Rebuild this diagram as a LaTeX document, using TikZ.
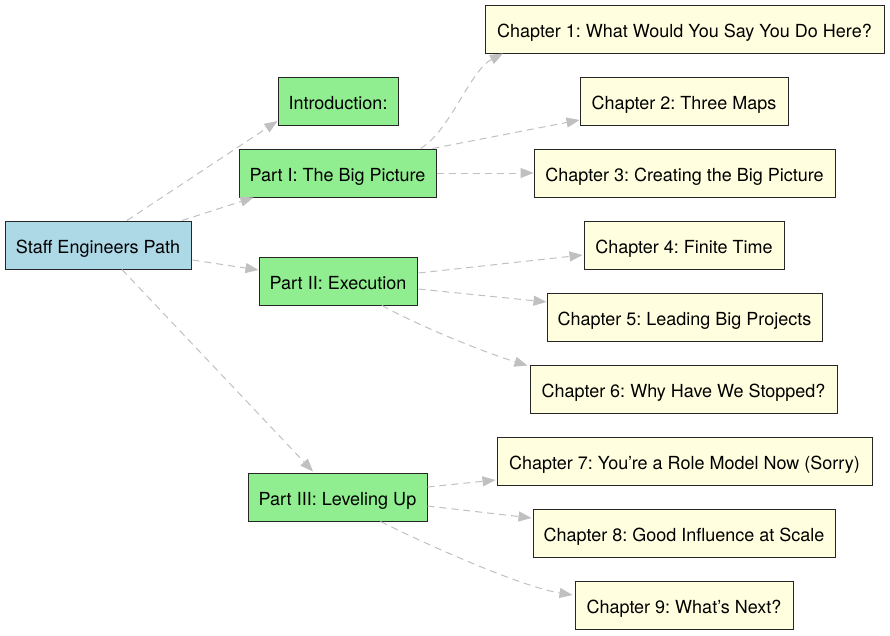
\documentclass[tikz,border=0pt]{standalone}
\usepackage{fontspec}
\setmainfont{TeX Gyre Heros}
\usetikzlibrary{arrows.meta,calc}
\definecolor{rootfill}{HTML}{ADD8E6}
\definecolor{partfill}{HTML}{90EE90}
\definecolor{chapfill}{HTML}{FFFFE0}
\definecolor{edgegray}{HTML}{C0C0C0}
\frenchspacing
\tikzset{
  box/.style={draw=black!85, line width=1pt, rectangle, minimum height=48pt, inner sep=0pt, text height=18pt, text depth=1.4pt, font=\fontsize{18}{22}\selectfont\frenchspacing},
  rootbox/.style={box, fill=rootfill},
  partbox/.style={box, fill=partfill},
  chapbox/.style={box, fill=chapfill},
  edge/.style={draw=edgegray, line width=1pt, dash pattern=on 7pt off 5pt, -{Triangle[length=13pt,width=10pt]}}
}
\begin{document}
\begin{tikzpicture}[x=1pt,y=-1pt]
\useasboundingbox (0,0) rectangle (890,635);
\node[rootbox, minimum width=186pt] (staff) at (98,245) {Staff Engineers Path};
\node[partbox, minimum width=120pt] (intro) at (338,101) {Introduction:};
\node[partbox, minimum width=197pt] (p1) at (337.5,173) {Part I: The Big Picture};
\node[partbox, minimum width=158pt] (p2) at (338,281) {Part II: Execution};
\node[partbox, minimum width=179pt] (p3) at (337.5,497) {Part III: Leveling Up};
\node[chapbox, minimum width=399pt] (c1) at (684.5,29) {Chapter 1: What Would You Say You Do Here?};
\node[chapbox, minimum width=208pt] (c2) at (684,101) {Chapter 2: Three Maps};
\node[chapbox, minimum width=301pt] (c3) at (684.5,173) {Chapter 3: Creating the Big Picture};
\node[chapbox, minimum width=200pt] (c4) at (684,245) {Chapter 4: Finite Time};
\node[chapbox, minimum width=275pt] (c5) at (684.5,317) {Chapter 5: Leading Big Projects};
\node[chapbox, minimum width=307pt] (c6) at (683.5,389) {Chapter 6: Why Have We Stopped?};
\node[chapbox, minimum width=375pt] (c7) at (684.5,461) {Chapter 7: You’re a Role Model Now (Sorry)};
\node[chapbox, minimum width=302pt] (c8) at (684,533) {Chapter 8: Good Influence at Scale};
\node[chapbox, minimum width=218pt] (c9) at (684,605) {Chapter 9: What’s Next?};
% root edges
\draw[edge] ($(staff.north)+(29,0)$) -- ($(intro.west)+(0,20)$);
\draw[edge] ($(staff.north)+(84,0)$) -- ($(p1.south)+(-84,0)$);
\draw[edge] ($(staff.east)+(1,15)$) -- ($(p2.west)+(0,-11)$);
\draw[edge] ($(staff.south)+(24,0)$) -- ($(p3.north)+(-24.5,-1)$);
% part I edges
\draw[edge] ($(p1.north)+(83,0)$) .. controls +(30,-18) and +(-33,17) .. ($(c1.south)+(-181.5,0)$);
\draw[edge] ($(p1.north)+(95,0)$) -- ($(c2.west)+(0,19)$);
\draw[edge] (p1.east) -- (c3.west);
% part II edges
\draw[edge] ($(p2.east)+(1,-8)$) -- ($(c4.west)+(-1,10)$);
\draw[edge] ($(p2.east)+(1,8)$) -- ($(c5.west)+(0,-15)$);
\draw[edge] ($(p2.south)+(44,0)$) .. controls +(40,22) and +(-40,-12) .. ($(c6.north west)+(-2,1)$);
% part III edges
\draw[edge] ($(p3.east)+(0,-10)$) -- ($(c7.west)+(-1,19)$);
\draw[edge] ($(p3.east)+(0,9)$) -- ($(c8.west)+(-1,-15)$);
\draw[edge] ($(p3.south)+(43,0)$) .. controls +(50,25) and +(-50,-8) .. ($(c9.west)+(-2,-10)$);
\end{tikzpicture}
\end{document}
